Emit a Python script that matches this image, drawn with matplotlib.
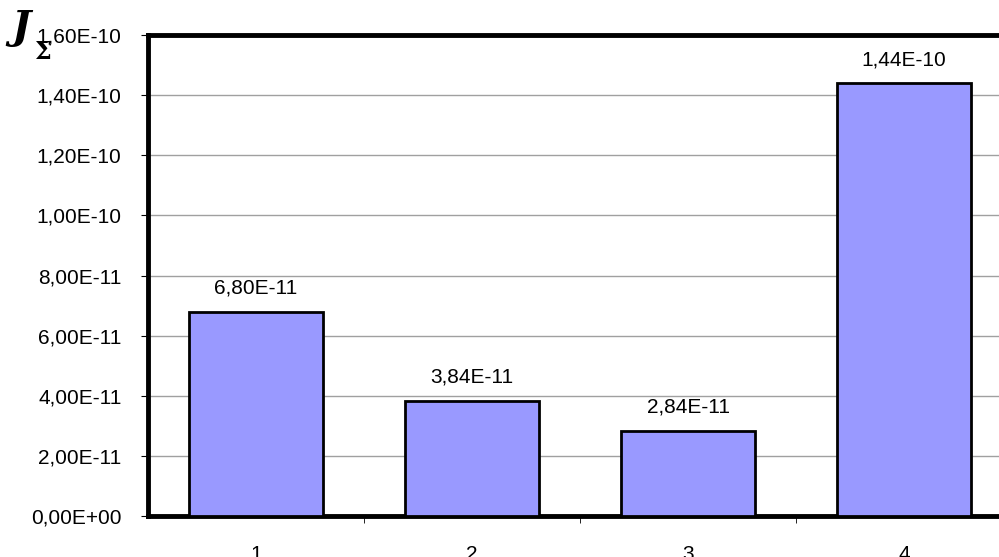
import matplotlib
matplotlib.use("Agg")
import matplotlib.pyplot as plt
from matplotlib.ticker import FuncFormatter, MultipleLocator

categories = ["1", "2", "3", "4"]
values = [6.80e-11, 3.84e-11, 2.84e-11, 1.44e-10]
value_labels = ["6,80E-11", "3,84E-11", "2,84E-11", "1,44E-10"]


def sci_comma(v, pos=None):
    s = f"{v:.2E}"
    mant, exp = s.split("E")
    sign = exp[0]
    digits = exp[1:].zfill(2)
    return f"{mant.replace('.', ',')}E{sign}{digits}"


plt.rcParams["font.family"] = ["Liberation Sans", "DejaVu Sans"]
fig = plt.figure(figsize=(9.99, 5.57), dpi=100)
ax = fig.add_axes([148 / 999, 1 - 516 / 557, (1012 - 148) / 999, (516 - 35) / 557])

x = list(range(len(categories)))
ax.bar(x, values, width=0.62, color="#9999ff", edgecolor="black", linewidth=2, zorder=3)

for xi, v, lab in zip(x, values, value_labels):
    ax.annotate(lab, (xi, v), xytext=(0, 10), textcoords="offset points",
                ha="center", va="bottom", fontsize=15, color="black")

ax.set_xlim(-0.5, len(categories) - 0.5)
ax.set_ylim(0, 1.6e-10)
ax.yaxis.set_major_locator(MultipleLocator(2e-11))
ax.yaxis.set_major_formatter(FuncFormatter(sci_comma))
ax.grid(axis="y", color="#a0a0a0", linewidth=1, zorder=0)

ax.set_xticks(x)
ax.set_xticklabels(categories)
ax.set_xticks([i + 0.5 for i in x[:-1]], minor=True)
ax.tick_params(axis="x", which="major", length=0, pad=21, labelsize=15)
ax.tick_params(axis="x", which="minor", length=5, direction="out", color="black")
ax.tick_params(axis="y", length=5, direction="out", labelsize=15, pad=14)

for side in ("left", "top", "bottom"):
    ax.spines[side].set_linewidth(3.5)
    ax.spines[side].set_color("black")
ax.spines["right"].set_visible(False)

# axis symbol: J with a Σ subscript
fig.text(11 / 999, 1 - 9 / 557, "J", fontsize=29, fontweight="bold", fontstyle="italic",
         ha="left", va="top", family="DejaVu Serif")
fig.text(35 / 999, 1 - 40 / 557, "Σ", fontsize=17, fontweight="bold",
         ha="left", va="top", family="DejaVu Serif")

fig.savefig("out.png", dpi=100)
